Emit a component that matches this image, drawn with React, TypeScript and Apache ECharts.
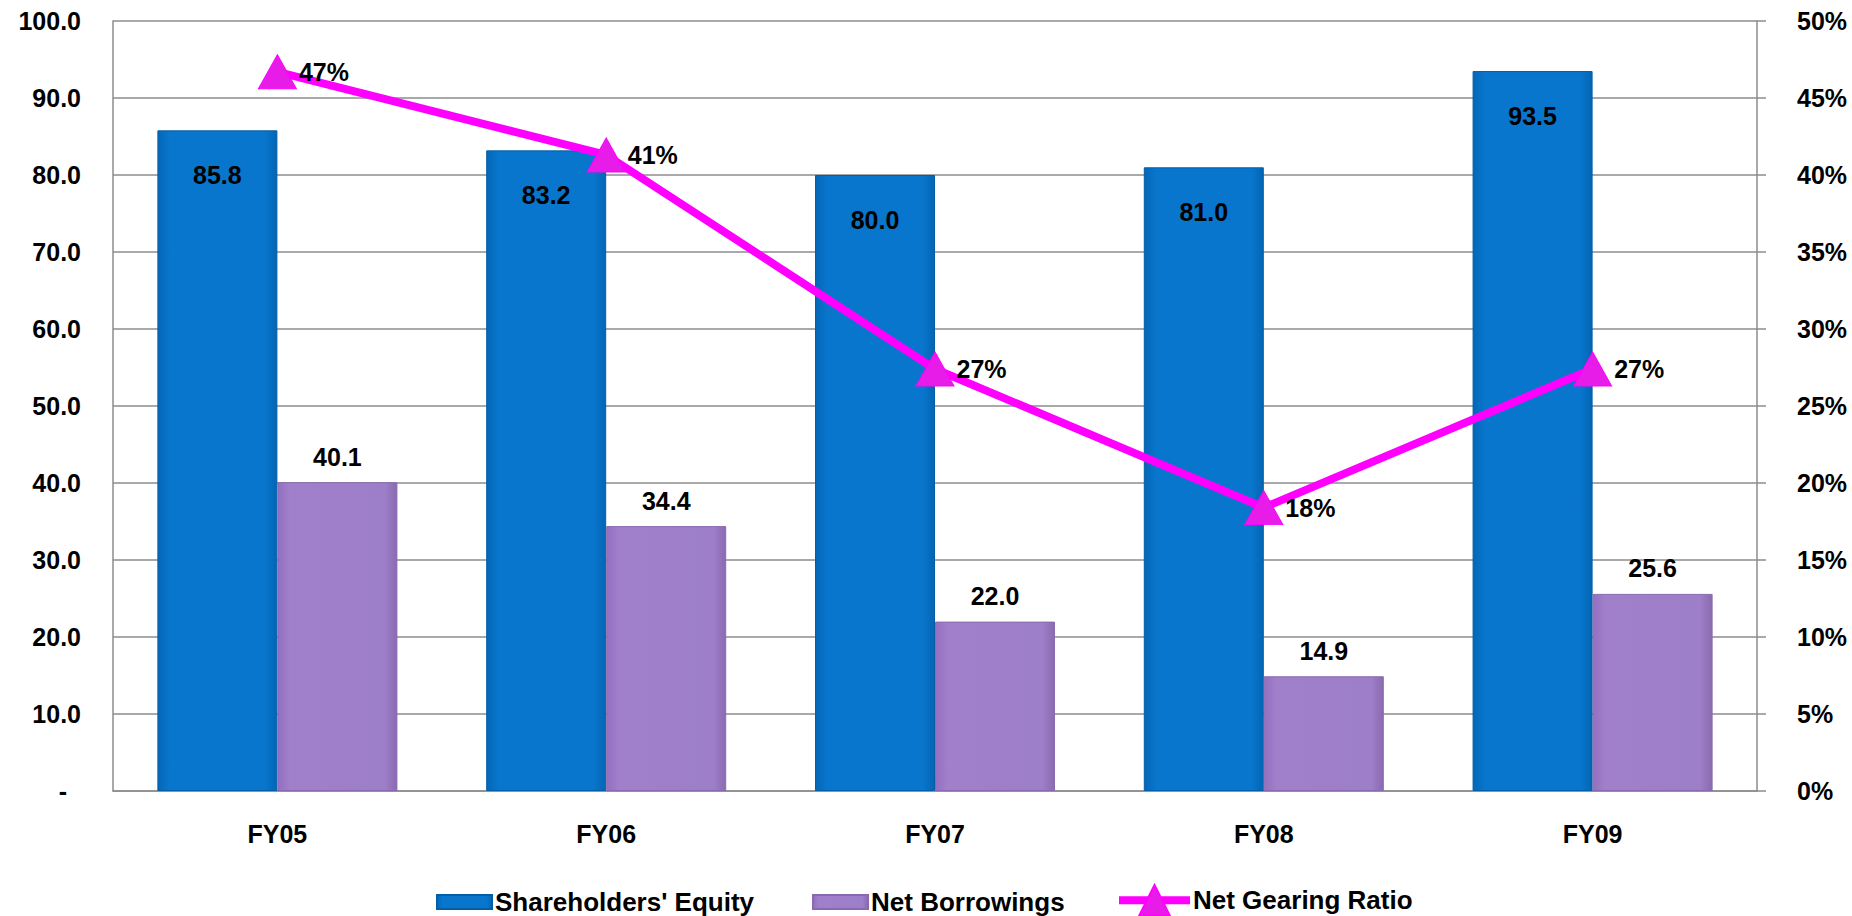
import React, { useEffect, useRef } from "react";
import * as echarts from "echarts";

const categories = ["FY05", "FY06", "FY07", "FY08", "FY09"];
const equity = [85.8, 83.2, 80.0, 81.0, 93.5];
const borrowings = [40.1, 34.4, 22.0, 14.9, 25.6];
const gearing = [46.7, 41.3, 27.4, 18.4, 27.4];

const FONT = "'Liberation Sans', Arial, sans-serif";

export default function App() {
  const ref = useRef<HTMLDivElement>(null);
  useEffect(() => {
    if (!ref.current) return;
    const chart = echarts.init(ref.current, null, { renderer: "svg" });
    const txt = { fontFamily: FONT, fontWeight: "bold" as const, fontSize: 25, color: "#000" };
    const blue = new echarts.graphic.LinearGradient(0, 0, 1, 0, [
      { offset: 0, color: "#0467b8" },
      { offset: 0.1, color: "#0876cc" },
      { offset: 0.9, color: "#0876cc" },
      { offset: 1, color: "#0465b4" },
    ]);
    const purple = new echarts.graphic.LinearGradient(0, 0, 1, 0, [
      { offset: 0, color: "#9470c0" },
      { offset: 0.1, color: "#a07fcb" },
      { offset: 0.9, color: "#9d7ec8" },
      { offset: 1, color: "#8a6aaf" },
    ]);
    chart.setOption({
      animation: false,
      backgroundColor: "#fff",
      grid: { left: 113, right: 95, top: 21, bottom: 125, containLabel: false },
      legend: [
        {
          top: 884,
          left: 431,
          itemGap: 58,
          itemWidth: 55,
          itemHeight: 14,
          textStyle: { ...txt, fontSize: 26, padding: [0, 0, 0, -2] },
          data: [
            { name: "Shareholders' Equity", icon: "rect" },
            { name: "Net Borrowings", icon: "rect" },
          ],
        },
        {
          top: 879,
          left: 1110,
          itemWidth: 71,
          itemHeight: 38,
          textStyle: { ...txt, fontSize: 26, padding: [0, 0, 0, -2] },
          data: [
            {
              name: "Net Gearing Ratio",
              lineStyle: { width: 8, color: "#ff00ff" },
            },
          ],
        },
      ],
      xAxis: {
        type: "category",
        data: categories,
        axisLine: { lineStyle: { color: "#8c8c8c", width: 1.5 } },
        axisTick: { show: false },
        axisLabel: { ...txt, margin: 30 },
      },
      yAxis: [
        {
          type: "value",
          min: 0,
          max: 100,
          interval: 10,
          axisLine: { show: true, lineStyle: { color: "#8c8c8c", width: 1.5 } },
          axisTick: { show: false },
          splitLine: { lineStyle: { color: "#8c8c8c", width: 1.5 } },
          axisLabel: {
            ...txt,
            margin: 32,
            formatter: (v: number) => (v === 0 ? "-  " : v.toFixed(1)),
          },
        },
        {
          type: "value",
          min: 0,
          max: 50,
          interval: 5,
          position: "right",
          axisLine: { show: true, lineStyle: { color: "#8c8c8c", width: 1.5 } },
          axisTick: { show: true, inside: false, length: 9, lineStyle: { color: "#8c8c8c", width: 1.5 } },
          splitLine: { show: false },
          axisLabel: { ...txt, margin: 40, formatter: (v: number) => v + "%" },
        },
      ],
      series: [
        {
          name: "Shareholders' Equity",
          type: "bar",
          data: equity,
          barGap: "0%",
          barCategoryGap: "27%",
          itemStyle: { color: blue, borderColor: "#045ea6", borderWidth: 1 },
          label: {
            show: true,
            position: "insideTop",
            distance: 32,
            ...txt,
            formatter: (p: any) => p.value.toFixed(1),
          },
        },
        {
          name: "Net Borrowings",
          type: "bar",
          data: borrowings,
          itemStyle: { color: purple, borderColor: "#8a6aaf", borderWidth: 1 },
          label: {
            show: true,
            position: "top",
            distance: 13,
            ...txt,
            formatter: (p: any) => p.value.toFixed(1),
          },
        },
        {
          name: "Net Gearing Ratio",
          type: "line",
          yAxisIndex: 1,
          data: gearing,
          z: 5,
          symbol: "triangle",
          symbolSize: [38, 34],
          lineStyle: { color: "#ff00ff", width: 8 },
          itemStyle: { color: "#e81ce8", borderColor: "#ff00ff", borderWidth: 1 },
          label: {
            show: true,
            position: "right",
            distance: 2,
            ...txt,
            formatter: (p: any) => Math.round(p.value) + "%",
          },
        },
      ],
    });
    return () => chart.dispose();
  }, []);
  return (
    <div
      ref={ref}
      style={{ position: "fixed", left: 0, top: 0, width: 1852, height: 916, background: "#fff" }}
    />
  );
}
